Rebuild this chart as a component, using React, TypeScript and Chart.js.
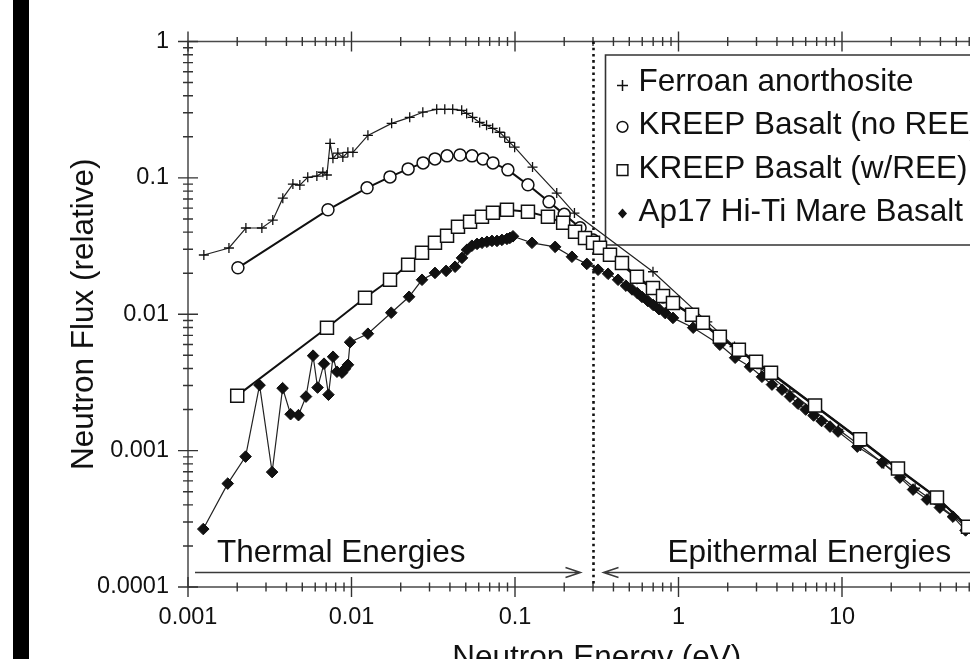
import React, { useEffect, useRef } from "react";
import { Chart, registerables } from "chart.js";

Chart.register(...registerables);

const FONT = "'Liberation Sans', Arial, Helvetica, sans-serif";
const CANVAS_W = 1060;
const CANVAS_H = 700;

// ---------------- data ----------------
const seriesLabels = [
  "Ferroan anorthosite",
  "KREEP Basalt (no REE)",
  "KREEP Basalt (w/REE)",
  "Ap17 Hi-Ti Mare Basalt",
];

const faEnergy = [
  0.00125, 0.00178, 0.00226, 0.00283, 0.0033, 0.0038, 0.00438, 0.00483, 0.0054, 0.00614,
  0.00668, 0.00707, 0.0074, 0.0077, 0.00825, 0.00885, 0.0095, 0.0102, 0.0126, 0.0176,
  0.0227, 0.0273, 0.0332, 0.0372, 0.0416, 0.0472, 0.0506, 0.055, 0.0608, 0.067,
  0.073, 0.0805, 0.0865, 0.0927, 0.0995, 0.128, 0.18, 0.231, 0.698,
  1.5, 2.2, 3.2, 4.8, 6.8, 9.5, 13, 18, 23, 28, 34, 40, 48, 59, 100,
];
const faFlux = [
  0.0272, 0.0306, 0.0429, 0.0429, 0.049, 0.071, 0.09, 0.0885, 0.101, 0.103,
  0.11, 0.105, 0.179, 0.139, 0.152, 0.142, 0.154, 0.154, 0.205, 0.251,
  0.278, 0.303, 0.318, 0.318, 0.318, 0.313, 0.297, 0.278, 0.255, 0.243,
  0.231, 0.216, 0.199, 0.182, 0.168, 0.12, 0.0773, 0.0552, 0.0205,
  0.0088, 0.0058, 0.004, 0.0027, 0.00195, 0.00143, 0.00108, 0.0008, 0.00064, 0.00053,
  0.00045, 0.00039, 0.00033, 0.00027, 0.000165,
];

const kbNoEnergy = [
  0.00202, 0.00718, 0.01245, 0.0172, 0.0222, 0.0274, 0.0324, 0.0384, 0.0461, 0.0546,
  0.0637, 0.0733, 0.0905, 0.12, 0.1615, 0.2, 0.25, 0.3, 0.381, 0.557,
  0.804, 1.21, 1.79, 2.98, 6.84, 12.9, 22, 38.1, 59, 100,
];
const kbNoFlux = [
  0.0219, 0.0583, 0.0845, 0.1017, 0.1164, 0.1288, 0.1378, 0.145, 0.147, 0.145,
  0.1378, 0.1288, 0.1145, 0.0889, 0.0667, 0.054, 0.043, 0.035, 0.0272, 0.0186,
  0.0134, 0.0098, 0.0068, 0.00445, 0.00212, 0.0012, 0.00073, 0.00045, 0.000275, 0.00017,
];

const kbWEnergy = [
  0.002, 0.00708, 0.0121, 0.0172, 0.0222, 0.027, 0.0324, 0.0384, 0.0448, 0.0531,
  0.0628, 0.0733, 0.0893, 0.12, 0.159, 0.197, 0.233, 0.268, 0.3, 0.331,
  0.381, 0.451, 0.557, 0.698, 0.804, 0.925, 1.21, 1.41, 1.79, 2.34,
  2.98, 3.68, 6.84, 12.9, 22.0, 38.1, 59.0, 100,
];
const kbWFlux = [
  0.00253, 0.00796, 0.01321, 0.0179, 0.0231, 0.0282, 0.0334, 0.0376, 0.0438, 0.0476,
  0.0518, 0.0554, 0.0583, 0.0564, 0.0518, 0.0468, 0.0402, 0.0363, 0.0334, 0.0307,
  0.0273, 0.0238, 0.0188, 0.0156, 0.0136, 0.0121, 0.0099, 0.00866, 0.00684, 0.0055,
  0.00449, 0.00373, 0.00214, 0.00121, 0.00074, 0.000453, 0.000277, 0.00017,
];

const apEnergy = [
  0.00124, 0.00175, 0.00225, 0.00274, 0.00327, 0.00379, 0.00424, 0.00474, 0.00527, 0.00582,
  0.0062, 0.00679, 0.00723, 0.00771, 0.00815, 0.00875, 0.00912, 0.00952, 0.0098, 0.0126,
  0.0175, 0.0225, 0.027, 0.0324, 0.0379, 0.043, 0.0474, 0.0508, 0.0545, 0.0586,
  0.0628, 0.0674, 0.0723, 0.0776, 0.0832, 0.0893, 0.0931, 0.0972, 0.127, 0.176,
  0.223, 0.275, 0.322, 0.371, 0.427, 0.477, 0.52, 0.56, 0.598, 0.65,
  0.7, 0.76, 0.83, 0.925, 1.23, 1.79, 2.22, 2.74, 3.24, 3.73,
  4.3, 4.81, 5.38, 6.0, 6.7, 7.5, 8.45, 9.46, 12.4, 17.6,
  22.6, 27.2, 33.1, 39.7, 47.7, 57,
];
const apFlux = [
  0.000266, 0.000573, 0.000904, 0.00302, 0.000696, 0.00287, 0.00185, 0.00182, 0.00249, 0.00497,
  0.0029, 0.00434, 0.00257, 0.00488, 0.00379, 0.00373, 0.00398, 0.00426, 0.00624, 0.0072,
  0.01026, 0.01343, 0.0179, 0.0201, 0.0208, 0.0223, 0.0259, 0.0297, 0.0318, 0.0328,
  0.0334, 0.034, 0.0345, 0.0345, 0.0351, 0.0357, 0.0363, 0.0373, 0.0334, 0.0312,
  0.0264, 0.0234, 0.0212, 0.0198, 0.0179, 0.0162, 0.0152, 0.0143, 0.0134, 0.0125,
  0.0117, 0.0109, 0.0102, 0.0094, 0.00797, 0.00598, 0.0048, 0.00412, 0.00348, 0.00305,
  0.0028, 0.00249, 0.00221, 0.002, 0.00181, 0.00165, 0.0015, 0.00138, 0.00107, 0.000817,
  0.000634, 0.000518, 0.000438, 0.000382, 0.000328, 0.00026,
];

const xTickValues = [0.001, 0.01, 0.1, 1, 10, 100];
const xTickLabels = ["0.001", "0.01", "0.1", "1", "10", "100"];
const yTickValues = [0.0001, 0.001, 0.01, 0.1, 1];
const yTickLabels = ["0.0001", "0.001", "0.01", "0.1", "1"];
const boundaryEnergy = 0.3;
const regionLabels = ["Thermal Energies", "Epithermal Energies"];
const xTitle = "Neutron Energy (eV)";
const yTitle = "Neutron Flux (relative)";

const markerStyles = ["cross", "circle", "rect", "rectRot"];

const toPoints = (xs: number[], ys: number[]) => xs.map((x, i) => ({ x, y: ys[i] }));

const BIG = 31.5;

function drawLegendMarker(ctx: CanvasRenderingContext2D, style: string, x: number, y: number) {
  ctx.save();
  ctx.strokeStyle = "#111";
  ctx.fillStyle = "#fff";
  ctx.lineWidth = 1.5;
  ctx.setLineDash([]);
  ctx.beginPath();
  if (style === "cross") {
    ctx.moveTo(x - 5.5, y + 2);
    ctx.lineTo(x + 5.5, y + 2);
    ctx.moveTo(x, y - 3.5);
    ctx.lineTo(x, y + 7.5);
    ctx.stroke();
  } else if (style === "circle") {
    ctx.arc(x, y, 5.4, 0, Math.PI * 2);
    ctx.fill();
    ctx.stroke();
  } else if (style === "rect") {
    ctx.rect(x - 5.4, y - 5.4, 10.8, 10.8);
    ctx.fill();
    ctx.stroke();
  } else {
    ctx.fillStyle = "#111";
    ctx.moveTo(x, y - 5);
    ctx.lineTo(x + 4.5, y);
    ctx.lineTo(x, y + 5);
    ctx.lineTo(x - 4.5, y);
    ctx.closePath();
    ctx.fill();
  }
  ctx.restore();
}

const decorPlugin = {
  id: "decor",
  beforeDatasetsDraw(chart: any) {
    const { ctx, chartArea: a } = chart;
    const xs = chart.scales.x;
    const ys = chart.scales.y;
    ctx.save();

    // frame
    ctx.strokeStyle = "#4a4a4a";
    ctx.lineWidth = 1.5;
    ctx.beginPath();
    ctx.rect(a.left, a.top, a.right - a.left, a.bottom - a.top);
    ctx.stroke();

    // ticks (major + minor), crossing the axis lines
    ctx.strokeStyle = "#333";
    ctx.lineWidth = 1.4;
    ctx.beginPath();
    for (let i = 0; i < xTickValues.length; i++) {
      for (let m = 1; m <= 9; m++) {
        if (i === xTickValues.length - 1 && m > 1) break;
        const px = xs.getPixelForValue(xTickValues[i] * m);
        const len = m === 1 ? 10 : 4.5;
        for (const yy of [a.top, a.bottom]) {
          ctx.moveTo(px, yy - len);
          ctx.lineTo(px, yy + len);
        }
      }
    }
    for (let i = 0; i < yTickValues.length; i++) {
      for (let m = 1; m <= 9; m++) {
        if (i === yTickValues.length - 1 && m > 1) break;
        const py = ys.getPixelForValue(yTickValues[i] * m);
        const len = m === 1 ? 10 : 5;
        for (const xx of [a.left, a.right]) {
          ctx.moveTo(xx - len, py);
          ctx.lineTo(xx + len, py);
        }
      }
    }
    ctx.stroke();

    // dotted boundary
    const bx = Math.round(xs.getPixelForValue(boundaryEnergy)) + 0.5;
    ctx.strokeStyle = "#111";
    ctx.lineWidth = 2.6;
    ctx.setLineDash([2.6, 3.6]);
    ctx.beginPath();
    ctx.moveTo(bx, a.top);
    ctx.lineTo(bx, a.bottom);
    ctx.stroke();
    ctx.setLineDash([]);

    // arrows
    const ay = a.bottom - 14.5;
    ctx.strokeStyle = "#3a3a3a";
    ctx.lineWidth = 1.5;
    ctx.beginPath();
    const tTip = bx - 13;
    ctx.moveTo(a.left + 7, ay);
    ctx.lineTo(tTip, ay);
    ctx.moveTo(tTip - 15, ay - 5);
    ctx.lineTo(tTip, ay);
    ctx.lineTo(tTip - 15, ay + 5);
    const eTip = bx + 10;
    ctx.moveTo(a.right - 7, ay);
    ctx.lineTo(eTip, ay);
    ctx.moveTo(eTip + 15, ay - 5);
    ctx.lineTo(eTip, ay);
    ctx.lineTo(eTip + 15, ay + 5);
    ctx.stroke();

    // region labels
    ctx.fillStyle = "#111";
    ctx.font = `${BIG}px ${FONT}`;
    ctx.textBaseline = "alphabetic";
    ctx.textAlign = "left";
    ctx.fillText(regionLabels[0], a.left + 29, a.bottom - 25);
    ctx.fillText(regionLabels[1], bx + 74, a.bottom - 25);

    // legend box
    const lx = bx + 12;
    const ly = a.top + 13.5;
    ctx.fillStyle = "#fff";
    ctx.strokeStyle = "#333";
    ctx.lineWidth = 1.6;
    ctx.beginPath();
    ctx.rect(lx, ly, 440, 190);
    ctx.fill();
    ctx.stroke();
    ctx.font = `${BIG}px ${FONT}`;
    ctx.textBaseline = "middle";
    for (let i = 0; i < seriesLabels.length; i++) {
      const ry = ly + 27.5 + i * 43.3;
      drawLegendMarker(ctx, markerStyles[i], bx + 29, ry + 1);
      ctx.fillStyle = "#111";
      ctx.fillText(seriesLabels[i], bx + 45, ry);
    }
    ctx.restore();
  },
};

export default function App() {
  const canvasRef = useRef<HTMLCanvasElement | null>(null);

  useEffect(() => {
    if (!canvasRef.current) return;
    const tickFont = { size: 23.5, family: FONT };
    const titleFont = { size: BIG, family: FONT };
    const chart = new Chart(canvasRef.current, {
      type: "scatter",
      data: {
        datasets: [
          {
            label: seriesLabels[0],
            data: toPoints(faEnergy, faFlux),
            showLine: true,
            borderColor: "#222",
            borderWidth: 1.2,
            pointStyle: "cross",
            pointRadius: 5,
            pointBorderWidth: 1.3,
            pointBorderColor: "#111",
            pointBackgroundColor: "#111",
            order: 3,
          },
          {
            label: seriesLabels[1],
            data: toPoints(kbNoEnergy, kbNoFlux),
            showLine: true,
            borderColor: "#111",
            borderWidth: 2,
            pointStyle: "circle",
            pointRadius: 6,
            pointBorderWidth: 1.5,
            pointBorderColor: "#111",
            pointBackgroundColor: "#fff",
            order: 2,
          },
          {
            label: seriesLabels[2],
            data: toPoints(kbWEnergy, kbWFlux),
            showLine: true,
            borderColor: "#111",
            borderWidth: 2,
            pointStyle: "rect",
            pointRadius: 9.2,
            pointBorderWidth: 1.5,
            pointBorderColor: "#111",
            pointBackgroundColor: "#fff",
            order: 0,
          },
          {
            label: seriesLabels[3],
            data: toPoints(apEnergy, apFlux),
            showLine: true,
            borderColor: "#222",
            borderWidth: 1.2,
            pointStyle: "rectRot",
            pointRadius: 5.8,
            pointBorderWidth: 1,
            pointBorderColor: "#111",
            pointBackgroundColor: "#111",
            order: 1,
          },
        ],
      },
      options: {
        responsive: false,
        animation: false,
        devicePixelRatio: 1,
        layout: { padding: { left: 0, top: 41.5, right: CANVAS_W - 1005.5, bottom: 0 } },
        plugins: { legend: { display: false }, tooltip: { enabled: false } },
        elements: { line: { tension: 0 } },
        scales: {
          x: {
            type: "logarithmic",
            min: 0.001,
            max: 100,
            afterBuildTicks: (s: any) => {
              s.ticks = xTickValues.map((v) => ({ value: v }));
            },
            afterFit: (s: any) => {
              s.height = CANVAS_H - 587;
            },
            ticks: {
              callback: (_v: any, i: number) => xTickLabels[i],
              autoSkip: false,
              maxRotation: 0,
              padding: 16,
              color: "#111",
              font: tickFont,
            },
            grid: { display: false, drawTicks: false },
            border: { display: false },
            title: {
              display: true,
              text: xTitle,
              color: "#111",
              font: titleFont,
              padding: { top: 0, bottom: 23 },
            },
          },
          y: {
            type: "logarithmic",
            min: 0.0001,
            max: 1,
            afterBuildTicks: (s: any) => {
              s.ticks = yTickValues.map((v) => ({ value: v }));
            },
            afterFit: (s: any) => {
              s.width = 188;
            },
            ticks: {
              callback: (_v: any, i: number) => yTickLabels[i],
              autoSkip: false,
              padding: 19,
              color: "#111",
              font: tickFont,
            },
            grid: { display: false, drawTicks: false },
            border: { display: false },
            title: {
              display: true,
              text: yTitle,
              color: "#111",
              font: titleFont,
              padding: { top: 65, bottom: 0 },
            },
          },
        },
      },
      plugins: [decorPlugin],
    } as any);
    return () => chart.destroy();
  }, []);

  return (
    <div
      style={{
        position: "fixed",
        left: 0,
        top: 0,
        width: 970,
        height: 659,
        overflow: "hidden",
        background: "#fff",
      }}
    >
      <canvas
        ref={canvasRef}
        width={CANVAS_W}
        height={CANVAS_H}
        style={{ position: "absolute", left: 0, top: 0, width: CANVAS_W, height: CANVAS_H }}
      />
      <div
        style={{
          position: "absolute",
          left: 13,
          top: 0,
          width: 16,
          height: 659,
          background: "#000",
        }}
      />
    </div>
  );
}
